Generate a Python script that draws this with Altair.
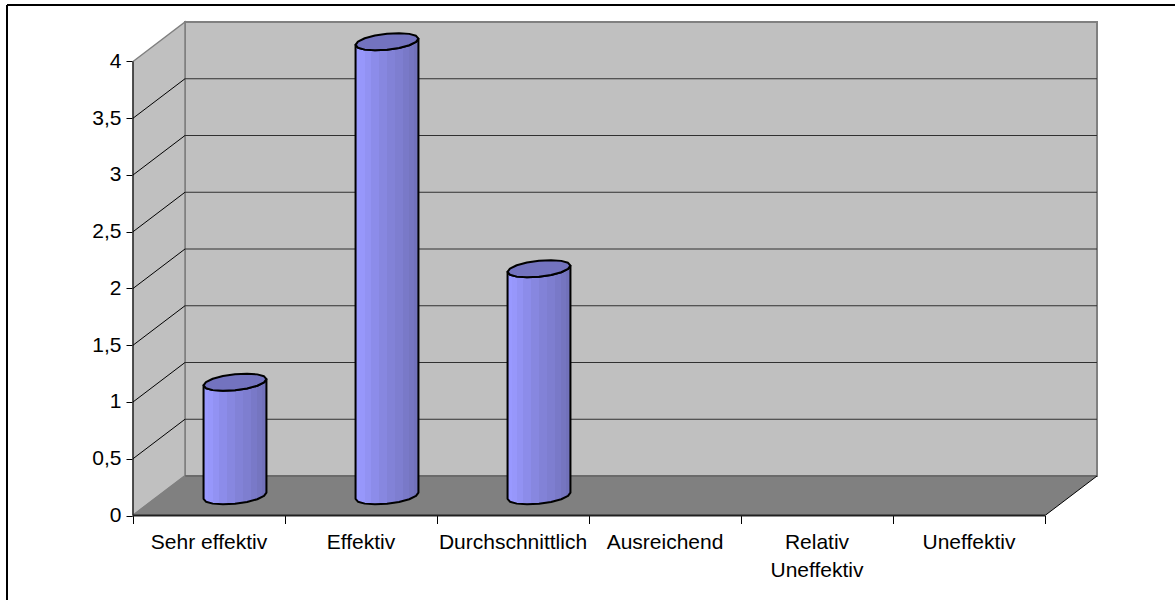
import numpy as np
import pandas as pd
import altair as alt

# Survey answers and how often each one was given
categories = ["Sehr effektiv", "Effektiv", "Durchschnittlich", "Ausreichend", "Relativ\nUneffektiv", "Uneffektiv"]
counts = [1, 4, 2, 0, 0, 0]
value_ticks = [0, 0.5, 1, 1.5, 2, 2.5, 3, 3.5, 4]

# Oblique projection: the box recedes up and to the right
DEPTH_X = 0.342
DEPTH_Y = 0.348
n = len(categories)
X_MAX = n + DEPTH_X
Y_MAX = 4 + DEPTH_Y
FONT = "Liberation Sans"
FONT_SIZE = 21
X_SCALE = alt.Scale(domain=[0, X_MAX], nice=False, zero=False)
Y_SCALE = alt.Scale(domain=[0, Y_MAX], nice=False, zero=False)

x_q = alt.X("x:Q", scale=X_SCALE, axis=None)
y_q = alt.Y("y:Q", scale=Y_SCALE, axis=None)

# Back wall
back_wall = alt.Chart(pd.DataFrame({"x": [DEPTH_X], "x2": [X_MAX], "y": [DEPTH_Y], "y2": [Y_MAX]})).mark_rect(
    fill="#C0C0C0", stroke="#808080", strokeWidth=2
).encode(x=x_q, x2="x2:Q", y=y_q, y2="y2:Q")

# Side wall and floor are parallelograms between a lower and an upper edge
side_wall = alt.Chart(pd.DataFrame({"x": [0, DEPTH_X], "y": [0, DEPTH_Y], "y2": [4, Y_MAX]})).mark_area(
    fill="#C0C0C0", stroke="#808080", strokeWidth=1.5
).encode(x=x_q, y=y_q, y2="y2:Q")

floor = alt.Chart(pd.DataFrame({
    "x": [0, DEPTH_X, n, n + DEPTH_X],
    "y": [0, 0, 0, DEPTH_Y],
    "y2": [0, DEPTH_Y, DEPTH_Y, DEPTH_Y],
})).mark_area(fill="#808080").encode(x=x_q, y=y_q, y2="y2:Q")

floor_back_edge = alt.Chart(pd.DataFrame({"x": [DEPTH_X], "x2": [X_MAX], "y": [DEPTH_Y]})).mark_rule(
    color="#6A6A6A", strokeWidth=2
).encode(x=x_q, x2="x2:Q", y=y_q)

floor_right_edge = alt.Chart(pd.DataFrame({"x": [n], "x2": [n + DEPTH_X], "y": [0], "y2": [DEPTH_Y]})).mark_rule(
    color="#000000", strokeWidth=1
).encode(x=x_q, x2="x2:Q", y=y_q, y2="y2:Q")

floor_left_edge = alt.Chart(pd.DataFrame({"x": [0], "x2": [DEPTH_X], "y": [0], "y2": [DEPTH_Y]})).mark_rule(
    color="#808080", strokeWidth=2
).encode(x=x_q, x2="x2:Q", y=y_q, y2="y2:Q")

# Gridlines run along the back wall and down the side wall to the value axis
grid_values = [v for v in value_ticks if 0 < v < 4]
grid_back = alt.Chart(pd.DataFrame({
    "x": [DEPTH_X] * len(grid_values), "x2": [X_MAX] * len(grid_values),
    "y": [v + DEPTH_Y for v in grid_values],
})).mark_rule(color="#303030", strokeWidth=1).encode(x=x_q, x2="x2:Q", y=y_q)

grid_side = alt.Chart(pd.DataFrame({
    "x": [0] * len(grid_values), "x2": [DEPTH_X] * len(grid_values),
    "y": grid_values, "y2": [v + DEPTH_Y for v in grid_values],
})).mark_rule(color="#000000", strokeWidth=1).encode(x=x_q, x2="x2:Q", y=y_q, y2="y2:Q")

# Cylinders: an elliptical cross-section skewed along the depth direction
HALF_W = 0.193
DEPTH_FRAC = 0.218
e_x = DEPTH_X * DEPTH_FRAC
e_y = DEPTH_Y * DEPTH_FRAC
phi = np.arctan2(e_x, HALF_W)
radius = np.hypot(HALF_W, e_x)
sweep = np.linspace(np.pi, 0, 9)

body_rows, top_rows = [], []
for i, v in enumerate(counts):
    if v <= 0:
        continue
    cx = i + 0.5 + DEPTH_X / 2
    cy = DEPTH_Y / 2
    xs = cx + radius * np.cos(sweep)
    front = e_y * np.sin(phi - sweep)
    back = e_y * np.sin(phi + sweep)
    for xv, f, b in zip(xs, front, back):
        body_rows.append({"bar": i, "x": xv, "y": cy + f, "y2": cy + v + f})
        top_rows.append({"bar": i, "x": xv, "y": cy + v + f, "y2": cy + v + b})

# Hard colour stops give each facet of the cylinder its own flat shade
shades = ["#9595F8", "#9999FF", "#9797FB", "#9292F3", "#8C8CEA", "#8787E0",
          "#8282D7", "#7E7ED0", "#7979C8", "#7575C0", "#7171BA", "#6E6EB4"]
edges = (1 - np.cos(np.linspace(0, np.pi, len(shades) + 1))) / 2
stops = []
for k, shade in enumerate(shades):
    stops.append(alt.GradientStop(offset=float(edges[k]), color=shade))
    stops.append(alt.GradientStop(offset=float(edges[k + 1]), color=shade))

body = alt.Chart(pd.DataFrame(body_rows)).mark_area(
    fill=alt.Gradient(gradient="linear", x1=0, x2=1, y1=0, y2=0, stops=stops),
    stroke="#000000", strokeWidth=2, strokeJoin="round",
).encode(x=x_q, y=y_q, y2="y2:Q", detail="bar:N")

cap = alt.Chart(pd.DataFrame(top_rows)).mark_area(
    fill="#7373BF", stroke="#000000", strokeWidth=2, strokeJoin="round",
).encode(x=x_q, y=y_q, y2="y2:Q", detail="bar:N")

# Value axis: ticks and labels from the scale, line only up to the last tick
value_axis = alt.Chart(pd.DataFrame({"y": value_ticks})).mark_point(opacity=0).encode(
    x=alt.value(0),
    y=alt.Y("y:Q", scale=Y_SCALE, axis=alt.Axis(
        values=value_ticks, title=None, domain=False, grid=False,
        tickColor="#000000", tickSize=7, tickWidth=1,
        labelFont=FONT, labelFontSize=FONT_SIZE, labelColor="#000000", labelPadding=5,
        labelExpr="replace('' + datum.value, '.', ',')",
    )),
)
value_line = alt.Chart(pd.DataFrame({"x": [0], "y": [0], "y2": [4]})).mark_rule(
    color="#000000", strokeWidth=1
).encode(x=x_q, y=y_q, y2="y2:Q")

# Category axis: ticks at the boundaries, labels centred between them
boundaries = list(range(n + 1))
category_ticks = alt.Chart(pd.DataFrame({"x": boundaries})).mark_point(opacity=0).encode(
    y=alt.value(490),
    x=alt.X("x:Q", scale=X_SCALE, axis=alt.Axis(
        values=boundaries, title=None, domain=False, grid=False, labels=False,
        tickColor="#000000", tickSize=8, tickWidth=1,
    )),
)
baseline = alt.Chart(pd.DataFrame({"x": [0], "x2": [n], "y": [0]})).mark_rule(
    color="#202020", strokeWidth=2
).encode(x=x_q, x2="x2:Q", y=y_q)

category_labels = alt.Chart(pd.DataFrame({
    "x": [i + 0.5 for i in range(n)], "y": [0] * n, "label": categories,
})).mark_text(
    font=FONT, fontSize=FONT_SIZE, color="#000000", baseline="alphabetic", align="center",
    dy=33, lineBreak="\n", lineHeight=28, clip=False,
).encode(x=x_q, y=y_q, text="label:N")

# Outer frame: only the top and left sides fall inside the chart
frame_top = alt.Chart(pd.DataFrame({"k": [0]})).mark_rule(color="#000000", strokeWidth=2, clip=False).encode(
    x=alt.value(-126), x2=alt.value(1042), y=alt.value(-17)
)
frame_left = alt.Chart(pd.DataFrame({"k": [0]})).mark_rule(color="#000000", strokeWidth=2, clip=False).encode(
    x=alt.value(-126), y=alt.value(-17), y2=alt.value(578)
)

chart = alt.layer(
    frame_top, frame_left, back_wall, side_wall, floor, floor_back_edge, grid_back, grid_side,
    floor_left_edge, floor_right_edge,
    body, cap, value_line, baseline, value_axis, category_ticks, category_labels,
).resolve_scale(x="shared", y="shared").resolve_axis(x="independent", y="independent").properties(
    width=964, height=493.5,
    padding={"left": 133, "top": 22, "right": 78, "bottom": 84.5},
    autosize=alt.AutoSizeParams(type="none"),
    background="#FFFFFF",
).configure_view(stroke=None)

chart.save("out.html", embed_options={"renderer": "svg", "actions": False})
